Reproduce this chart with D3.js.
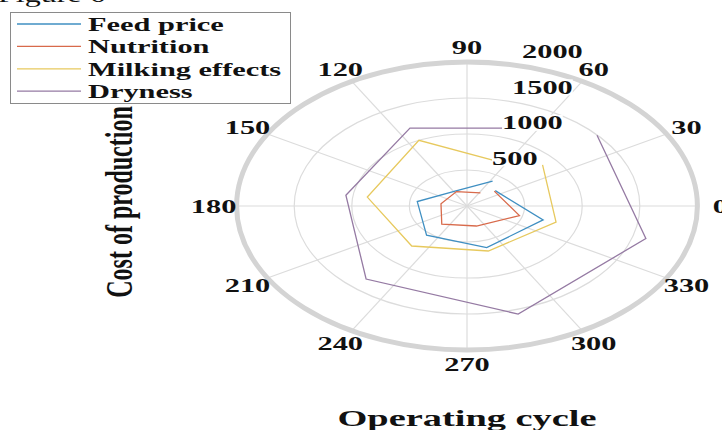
<!DOCTYPE html>
<html>
<head>
<meta charset="utf-8">
<script src="https://cdn.jsdelivr.net/npm/d3@7"></script>
<style>
  html, body { margin: 0; padding: 0; background: #fff; }
  svg { display: block; }
  text { font-family: "Liberation Serif", "Times New Roman", serif; fill: #111; }
</style>
</head>
<body>
<svg id="chart" width="722" height="430"></svg>
<script>
// Polar samples: angles in radians (1..7), values per cost component
const thetas = [1, 2, 3, 4, 5, 6, 7];
const seriesNames = ["Feed price", "Nutrition", "Milking effects", "Dryness"];
const feedPrice = [411, 230, 436, 537, 603, 688, 325];
const nutrition = [215, 220, 228, 335, 290, 474, 314];
const milkingEffects = [681, 1003, 874, 734, 652, 805, 870];
const dryness = [1285, 1190, 1062, 1340, 1565, 1617, 1497];
const angleTicks = [0, 30, 60, 90, 120, 150, 180, 210, 240, 270, 300, 330];
const rTicks = [500, 1000, 1500, 2000];
const seriesColors = ["#3f8fc2", "#d86a4b", "#e7c95e", "#957aa3"];

const allSeries = [feedPrice, nutrition, milkingEffects, dryness];

const svg = d3.select("#chart");
const cx = 467, cy = 206, R = 144, sx = 1.6;

const r = d3.scaleLinear().domain([0, 2000]).range([0, R]);
const rad = d => d * Math.PI / 180;

// caption fragment at the very top
svg.append("text")
  .attr("transform", `translate(-2,2) scale(${sx},1)`)
  .attr("font-size", 20)
  .text("Figure 6");

// stretched polar frame
const g = svg.append("g").attr("transform", `translate(${cx},${cy}) scale(${sx},1)`);

// rings
g.selectAll("circle.ring")
  .data(rTicks.slice(0, -1))
  .join("circle")
  .attr("class", "ring")
  .attr("r", d => r(d))
  .attr("fill", "none")
  .attr("stroke", "#dcdcdc")
  .attr("stroke-width", 1.2)
  .attr("vector-effect", "non-scaling-stroke");

// spokes
g.selectAll("line.spoke")
  .data(angleTicks)
  .join("line")
  .attr("class", "spoke")
  .attr("x1", 0).attr("y1", 0)
  .attr("x2", d => r(2000) * Math.cos(rad(d)))
  .attr("y2", d => -r(2000) * Math.sin(rad(d)))
  .attr("stroke", "#dcdcdc")
  .attr("stroke-width", 1.2)
  .attr("vector-effect", "non-scaling-stroke");

// outer boundary
g.append("circle")
  .attr("r", r(2000))
  .attr("fill", "none")
  .attr("stroke", "#d4d4d4")
  .attr("stroke-width", 5)
  .attr("vector-effect", "non-scaling-stroke");

// data lines
const line = d3.lineRadial()
  .angle(d => Math.PI / 2 - d[0])
  .radius(d => r(d[1]));

allSeries.forEach((vals, i) => {
  g.append("path")
    .datum(thetas.map((t, k) => [t, vals[k]]))
    .attr("d", line)
    .attr("fill", "none")
    .attr("stroke", seriesColors[i])
    .attr("stroke-width", 1.3)
    .attr("vector-effect", "non-scaling-stroke");
});

// angle labels
angleTicks.forEach(a => {
  const x = cx + sx * r(2000) * 1.1 * Math.cos(rad(a));
  const y = cy - r(2000) * 1.1 * Math.sin(rad(a));
  svg.append("text")
    .attr("transform", `translate(${x},${y}) scale(${sx},1)`)
    .attr("text-anchor", "middle")
    .attr("dominant-baseline", "central")
    .attr("font-size", 19)
    .attr("font-weight", "bold")
    .text(a);
});

// radial tick labels along 80 degrees, on a white box
rTicks.forEach(v => {
  const x = cx + sx * r(v) * Math.cos(rad(80)) + 15;
  const y = cy - r(v) * Math.sin(rad(80)) - 6;
  const lg = svg.append("g").attr("transform", `translate(${x},${y}) scale(${sx},1)`);
  const t = lg.append("text")
    .attr("font-size", 19)
    .attr("font-weight", "bold")
    .text(v);
  const bb = t.node().getBBox();
  lg.insert("rect", "text")
    .attr("x", bb.x).attr("y", bb.y + 3)
    .attr("width", bb.width).attr("height", bb.height - 5)
    .attr("fill", "#fff");
});

// axis titles
svg.append("text")
  .attr("transform", `translate(467,426) scale(${sx},1)`)
  .attr("text-anchor", "middle")
  .attr("font-size", 24)
  .attr("font-weight", "bold")
  .text("Operating cycle");

svg.append("text")
  .attr("transform", `translate(132,202) scale(${sx},1) rotate(-90)`)
  .attr("text-anchor", "middle")
  .attr("font-size", 24)
  .attr("font-weight", "bold")
  .text("Cost of production");

// legend
const legend = svg.append("g");
legend.append("rect")
  .attr("x", 10.5).attr("y", 12.5)
  .attr("width", 280).attr("height", 91)
  .attr("fill", "#fff")
  .attr("stroke", "#8a8a8a")
  .attr("stroke-width", 1);

seriesNames.forEach((name, i) => {
  const base = 31 + i * 22.4;
  legend.append("line")
    .attr("x1", 17).attr("x2", 81)
    .attr("y1", base - 7).attr("y2", base - 7)
    .attr("stroke", seriesColors[i])
    .attr("stroke-width", 1.3);
  legend.append("text")
    .attr("transform", `translate(88,${base}) scale(${sx},1)`)
    .attr("font-size", 19)
    .attr("font-weight", "bold")
    .text(name);
});
</script>
</body>
</html>
